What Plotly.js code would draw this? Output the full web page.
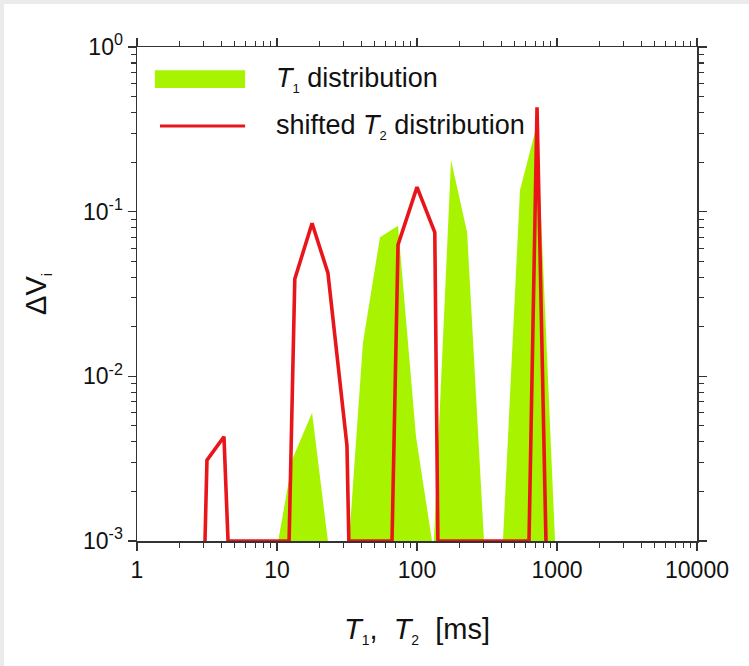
<!DOCTYPE html>
<html>
<head>
<meta charset="utf-8">
<script src="https://cdn.plot.ly/plotly-3.0.1.min.js"></script>
<style>
  html, body { margin: 0; padding: 0; background: #ebebeb; width: 749px; height: 666px; overflow: hidden; }
  #chart { position: absolute; left: 4px; top: 4px; width: 745px; height: 662px; background: #fff; }
</style>
</head>
<body>
<div id="chart"></div>
<script>
// T1 distribution (filled area), relaxation time in ms and ΔVi
const t1Ms = [10.2, 13.0, 17.8, 23.1, 32.7, 41.1, 54.4, 73.2, 98.4, 128, 132, 175, 228, 301, 411, 544, 720, 968];
const t1Dv = [0.001, 0.0032, 0.006, 0.001, 0.001, 0.016, 0.070, 0.082, 0.0043, 0.001, 0.001, 0.206, 0.075, 0.001, 0.001, 0.135, 0.34, 0.001];

// shifted T2 distribution (red line)
const t2Ms = [3.06, 3.16, 4.18, 4.47, 12.2, 13.4, 17.8, 23.1, 31.6, 32.6, 66.3, 73.2, 100, 134, 141, 631, 720, 834];
const t2Dv = [0.001, 0.0031, 0.0043, 0.001, 0.001, 0.039, 0.085, 0.0425, 0.0038, 0.001, 0.001, 0.063, 0.141, 0.075, 0.001, 0.001, 0.43, 0.001];

// tick labels
const xTickVals = [1, 10, 100, 1000, 10000];
const xTickText = ['1', '10', '100', '1000', '10000'];
const yTickVals = [0.001, 0.01, 0.1, 1];
const yTickText = ['10<sup>-3</sup>', '10<sup>-2</sup>', '10<sup>-1</sup>', '10<sup>0</sup>'];

const sub = (s, px) => '<sub><span style="font-size:' + px + 'px">' + s + '</span></sub>';
const legendLabels = ['<i>T</i>' + sub('1', 13) + ' distribution', 'shifted <i>T</i>' + sub('2', 13) + ' distribution'];

const green = '#a8f400';
const red = '#e8161b';
const axisColor = '#333333';
const FONT = '"Liberation Sans", Arial, sans-serif';

const traces = [
  {
    x: t1Ms, y: t1Dv, type: 'scatter', mode: 'lines',
    fill: 'toself', fillcolor: green, line: { width: 0, color: green },
    name: 'T1 distribution', showlegend: false, hoverinfo: 'x+y'
  },
  {
    x: t2Ms, y: t2Dv, type: 'scatter', mode: 'lines',
    line: { width: 3.6, color: red }, name: 'shifted T2 distribution', showlegend: false
  }
];

const axisCommon = {
  type: 'log', showgrid: false, zeroline: false,
  showline: true, linecolor: axisColor, linewidth: 1.5, mirror: 'allticks',
  ticks: 'outside', ticklen: 8, tickwidth: 1.3, tickcolor: axisColor,
  tickfont: { family: FONT, size: 23, color: '#111' },
  minor: { ticks: 'outside', ticklen: 5, tickwidth: 1.1, tickcolor: axisColor, dtick: 'D1', showgrid: false }
};

const layout = {
  width: 745, height: 662,
  margin: { l: 133, r: 52, t: 43, b: 125 },
  paper_bgcolor: '#ffffff', plot_bgcolor: '#ffffff',
  showlegend: false,
  font: { family: FONT, color: '#111' },
  xaxis: Object.assign({}, axisCommon, {
    range: [0, 4], tickmode: 'array', tickvals: xTickVals, ticktext: xTickText,
    title: { text: '<i>T</i>' + sub('1', 14) + ',  <i>T</i>' + sub('2', 14) + '  [ms]', font: { family: FONT, size: 29, color: '#111' }, standoff: 36 }
  }),
  yaxis: Object.assign({}, axisCommon, {
    range: [-3, 0], tickmode: 'array', tickvals: yTickVals, ticktext: yTickText,
    title: { text: 'ΔV' + sub('i', 14), font: { family: FONT, size: 29, color: '#111' }, standoff: 28 }
  }),
  shapes: [
    { type: 'rect', xref: 'paper', yref: 'paper', x0: 0.032, x1: 0.193, y0: 0.917, y1: 0.953,
      fillcolor: green, line: { width: 0 } },
    { type: 'line', xref: 'paper', yref: 'paper', x0: 0.041, x1: 0.193, y0: 0.840, y1: 0.840,
      line: { color: red, width: 3 } }
  ],
  annotations: [
    { xref: 'paper', yref: 'paper', x: 0.244, y: 0.935, xanchor: 'left', yanchor: 'middle',
      text: legendLabels[0], showarrow: false, font: { family: FONT, size: 27, color: '#111' } },
    { xref: 'paper', yref: 'paper', x: 0.244, y: 0.840, xanchor: 'left', yanchor: 'middle',
      text: legendLabels[1], showarrow: false, font: { family: FONT, size: 27, color: '#111' } }
  ]
};

Plotly.newPlot('chart', traces, layout, { staticPlot: true, displayModeBar: false });
</script>
</body>
</html>
